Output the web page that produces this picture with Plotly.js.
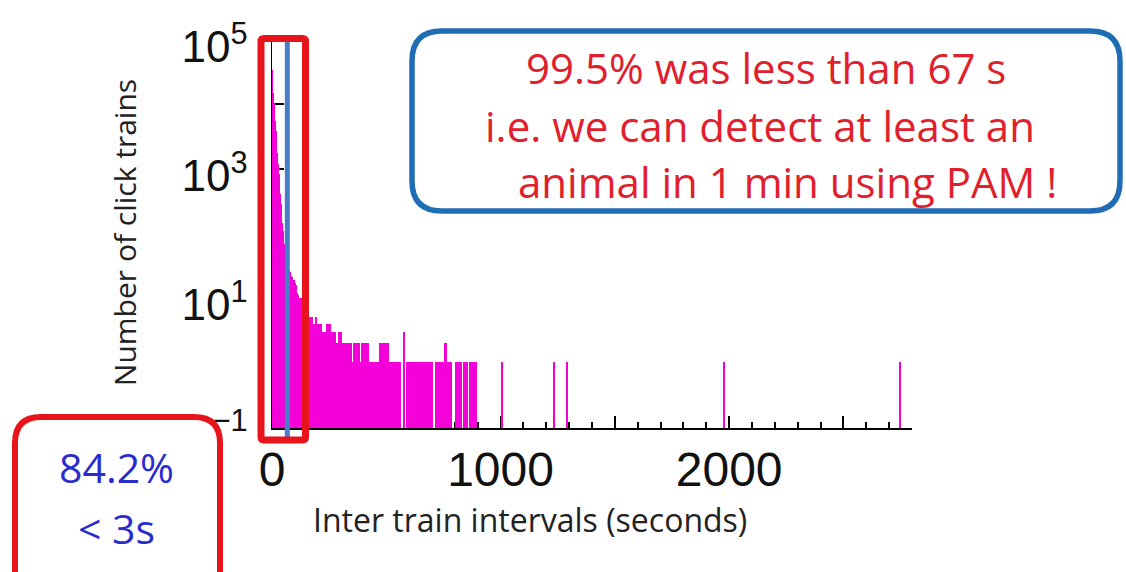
<!DOCTYPE html>
<html>
<head>
<meta charset="utf-8">
<script src="https://cdn.plot.ly/plotly-3.0.1.min.js"></script>
<style>html,body{margin:0;padding:0;background:#fff;}#chart{width:1126px;height:572px;}</style>
</head>
<body>
<div id="chart"></div>
<script>
// ---------- DATA ----------
// Histogram of inter-train intervals: bin left edge (s), bin width (s), count
const binStart = [
  0,3,6,9,12,15,18,21,24,27,30,33,36,39,42,45,48,51,54,57,60,63,66,69,72,75,78,81,84,87,
  90,93,96,99,102,105,108,111,114,117,120,123,126,129,132,135,138,141,144,147,150,153,156,159,162,165,
  168,178,188,198,208,218,228,238,248,258,268,278,288,298,308,318,
  328,348,354,384,390,424,467,511,572,586,712,752,764,800,834,862,
  1004,1228,1285,1973,2744
];
const binWidth = [
  3,3,3,3,3,3,3,3,3,3,3,3,3,3,3,3,3,3,3,3,3,3,3,3,3,3,3,3,3,3,
  3,3,3,3,3,3,3,3,3,3,3,3,3,3,3,3,3,3,3,3,3,3,3,3,3,3,
  10,10,10,10,10,10,10,10,10,10,10,10,10,10,10,10,
  20,6,30,6,34,43,44,53,8,118,40,12,22,30,24,34,
  8,8,8,8,8
];
const counts = [
  33900,22400,15100,10500,7600,5500,3800,2630,1780,1200,830,575,400,280,200,145,107,83,68,56,48,41,36,32,30,27,25,23,22,21,
  20,19,19,18,17,16,14,12,11,10,10,10,9,10,10,9,10,8,7,7,6,6,6,6,5,5,
  5,4,5,4,4,3,3,4,4,3,3,2,3,3,2,2,
  2,1,2,1,2,1,2,1,3,1,1,2,1,1,1,1,
  1,1,1,1,1
];
const thresholdSeconds = 67;          // blue marker line
const yTickValues = [0.1, 1, 10, 100, 1000, 10000, 100000];
const yTickLabels = ['<sup>−1</sup>', '', '10<sup>1</sup>', '', '10<sup>3</sup>', '', '10<sup>5</sup>'];
const xTickValues = [0, 500, 1000, 1500, 2000, 2500];
const xTickLabels = ['0', '', '1000', '', '2000', ''];
const xTitle = 'Inter train intervals (seconds)';
const yTitle = 'Number of click trains';
const noteLines = ['99.5% was less than 67 s', 'i.e. we can detect at least an', 'animal in 1 min using PAM !'];
const leftNoteLines = ['84.2%', '&lt; 3s'];

// ---------- LAYOUT HELPERS ----------
const W = 1126, H = 572;
const M = {l: 272, r: 214, t: 37, b: 144};
const PW = W - M.l - M.r, PH = H - M.t - M.b;
const px = x => (x - M.l) / PW;
const py = y => (M.t + PH - y) / PH;

function roundRect(x0, y0, x1, y1, r) {
  const rx = r / PW, ry = r / PH;
  const X0 = px(x0), X1 = px(x1), Y0 = py(y0), Y1 = py(y1);
  return 'M' + (X0 + rx) + ',' + Y0 +
    ' L' + (X1 - rx) + ',' + Y0 +
    ' Q' + X1 + ',' + Y0 + ' ' + X1 + ',' + (Y0 - ry) +
    ' L' + X1 + ',' + (Y1 + ry) +
    ' Q' + X1 + ',' + Y1 + ' ' + (X1 - rx) + ',' + Y1 +
    ' L' + (X0 + rx) + ',' + Y1 +
    ' Q' + X0 + ',' + Y1 + ' ' + X0 + ',' + (Y1 + ry) +
    ' L' + X0 + ',' + (Y0 - ry) +
    ' Q' + X0 + ',' + Y0 + ' ' + (X0 + rx) + ',' + Y0 + ' Z';
}

const magenta = '#f400d8';
const redBox = '#e8141c';
const blueBox = '#1f6db5';
const redText = '#e0202c';
const blueText = '#2a2ccc';
const noteFont = 'Open Sans, sans-serif';

const trace = {
  type: 'bar',
  x: binStart,
  width: binWidth,
  offset: 0,
  y: counts,
  marker: {color: magenta, line: {width: 0}},
  hoverinfo: 'x+y'
};

const layout = {
  width: W, height: H,
  margin: M,
  paper_bgcolor: '#ffffff',
  plot_bgcolor: '#ffffff',
  showlegend: false,
  bargap: 0,
  xaxis: {
    type: 'linear',
    range: [0, 2800],
    tickmode: 'array',
    tickvals: xTickValues,
    ticktext: xTickLabels,
    ticks: 'inside', ticklen: 12, tickwidth: 2, tickcolor: '#000',
    minor: {tickmode: 'linear', tick0: 0, dtick: 100, ticks: 'inside', ticklen: 6, tickwidth: 2, tickcolor: '#000', showgrid: false},
    showline: true, linecolor: '#000', linewidth: 2,
    showgrid: false, zeroline: false,
    layer: 'below traces',
    ticklabelstandoff: -2,
    tickfont: {family: 'Liberation Sans, Arial, sans-serif', size: 48, color: '#111'}
  },
  yaxis: {
    type: 'log',
    range: [-1.015, 5.04],
    tickmode: 'array',
    tickvals: yTickValues,
    ticktext: yTickLabels,
    ticks: 'inside', ticklen: 12, tickwidth: 2, tickcolor: '#000',
    showline: true, linecolor: '#000', linewidth: 1.5,
    showgrid: false, zeroline: false,
    layer: 'below traces',
    ticklabelstandoff: 14,
    ticklabelshift: 7,
    tickfont: {family: 'Liberation Sans, Arial, sans-serif', size: 44, color: '#111'},
    title: {text: yTitle, font: {family: noteFont, size: 30, color: '#222'}, standoff: 36}
  },
  shapes: [
    {type: 'line', xref: 'x', yref: 'paper', x0: thresholdSeconds, x1: thresholdSeconds,
      y0: py(437), y1: py(37), line: {color: '#4a7dc8', width: 5}, layer: 'above'},
    {type: 'path', xref: 'paper', yref: 'paper', path: roundRect(261, 38.5, 305.5, 440, 3),
      line: {color: redBox, width: 7}, layer: 'above'},
    {type: 'path', xref: 'paper', yref: 'paper', path: roundRect(412, 31, 1120, 211, 30),
      line: {color: blueBox, width: 5.5}, layer: 'above'},
    {type: 'path', xref: 'paper', yref: 'paper', path: roundRect(15, 417, 220, 600, 26),
      line: {color: redBox, width: 6}, layer: 'above'}
  ],
  annotations: [
    {xref: 'paper', yref: 'paper', x: px(530), y: py(519), text: xTitle, showarrow: false,
      xanchor: 'center', yanchor: 'middle', font: {family: noteFont, size: 32, color: '#222'}},
    {xref: 'paper', yref: 'paper', x: px(766), y: py(67), text: noteLines[0], showarrow: false,
      xanchor: 'center', yanchor: 'middle', font: {family: noteFont, size: 42, color: redText}},
    {xref: 'paper', yref: 'paper', x: px(760), y: py(125), text: noteLines[1], showarrow: false,
      xanchor: 'center', yanchor: 'middle', font: {family: noteFont, size: 42, color: redText}},
    {xref: 'paper', yref: 'paper', x: px(787), y: py(181), text: noteLines[2], showarrow: false,
      xanchor: 'center', yanchor: 'middle', font: {family: noteFont, size: 42, color: redText}},
    {xref: 'paper', yref: 'paper', x: px(116), y: py(467), text: leftNoteLines[0], showarrow: false,
      xanchor: 'center', yanchor: 'middle', font: {family: noteFont, size: 41, color: blueText}},
    {xref: 'paper', yref: 'paper', x: px(116), y: py(528), text: leftNoteLines[1], showarrow: false,
      xanchor: 'center', yanchor: 'middle', font: {family: noteFont, size: 41, color: blueText}}
  ]
};

Plotly.newPlot('chart', [trace], layout, {displayModeBar: false, staticPlot: true});
</script>
</body>
</html>
